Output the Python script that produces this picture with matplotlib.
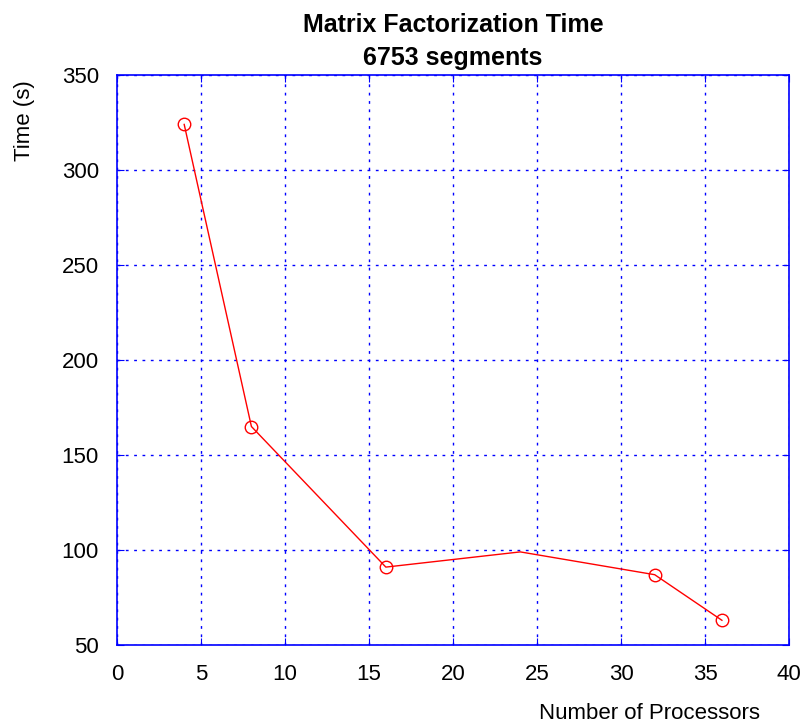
import matplotlib
matplotlib.use('Agg')
import matplotlib.pyplot as plt

plt.rcParams['font.family'] = ['Liberation Sans', 'DejaVu Sans']

processors = [4, 8, 16, 24, 32, 36]
times = [324, 165, 91, 99, 87, 63]
marked = [0, 1, 2, 4, 5]

fig = plt.figure(figsize=(8.04, 7.27), dpi=100)
ax = fig.add_axes([0.1455, 0.1128, 0.836, 0.784])

ax.plot(processors, times, color='red', linewidth=1, marker='o', markersize=9,
        markerfacecolor='none', markeredgecolor='red', markeredgewidth=1,
        markevery=marked)

ax.set_xlim(0, 40)
ax.set_ylim(50, 350)
ax.set_xticks(range(0, 41, 5))
ax.set_yticks(range(50, 351, 50))
ax.grid(True, color='blue', linestyle=(0, (2, 4)), linewidth=1)
for s in ax.spines.values():
    s.set_color('blue')
    s.set_linewidth(1.2)
ax.tick_params(direction='in', colors='blue', labelcolor='black', labelsize=16,
               length=5, top=True, right=True)
ax.tick_params(axis='x', pad=14)
ax.tick_params(axis='y', pad=13)

ax.set_title('Matrix Factorization Time\n6753 segments', fontsize=18,
             fontweight='bold', pad=7, linespacing=1.5)
fig.text(0.808, 0.019, 'Number of Processors', fontsize=16, ha='center', va='center')
fig.text(0.031, 0.834, 'Time (s)', fontsize=16, rotation=90, va='center', ha='center')

fig.savefig('out.png', dpi=100)
